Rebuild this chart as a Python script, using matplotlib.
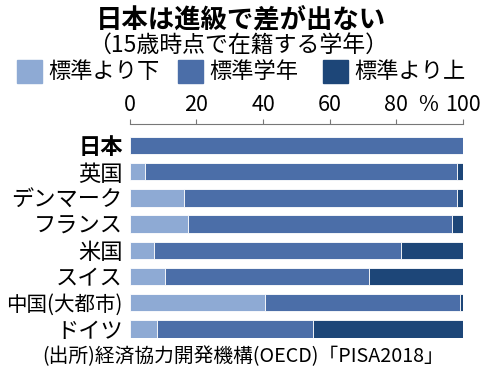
import matplotlib
matplotlib.use("Agg")
import matplotlib.pyplot as plt
import numpy as np
from matplotlib.patches import Rectangle

plt.rcParams['font.family'] = ['Noto Sans CJK JP', 'DejaVu Sans']

# data (%)
countries = ['日本', '英国', 'デンマーク', 'フランス', '米国', 'スイス', '中国(大都市)', 'ドイツ']
below     = np.array([0.0, 4.6, 16.3, 17.6, 7.4, 10.6, 40.6, 8.3])
above     = np.array([0.0, 1.7, 1.9, 3.2, 18.6, 28.3, 1.0, 45.1])
standard  = 100 - below - above
series_names = ['標準より下', '標準学年', '標準より上']
colors = ['#8eaad4', '#4b6ea8', '#1d4678']

fig = plt.figure(figsize=(4.8, 3.75), dpi=100)
ax = fig.add_axes([129.7/480, 1-337.7/375, (463-129.7)/480, (337.7-124)/375])

y = np.arange(len(countries))
h = 0.67
ax.barh(y, below, height=h, color=colors[0], edgecolor='white', linewidth=0.6)
ax.barh(y, standard, left=below, height=h, color=colors[1], edgecolor='white', linewidth=0.6)
ax.barh(y, above, left=below+standard, height=h, color=colors[2], edgecolor='white', linewidth=0.6)

ax.set_xlim(0, 100)
ax.set_ylim(len(countries)-1+0.335, -0.82)
ax.set_yticks(y)
ax.set_yticklabels(countries, fontsize=16)
ax.get_yticklabels()[0].set_fontweight('bold')
ax.get_yticklabels()[6].set_fontsize(14.8)
ax.tick_params(axis='y', length=0, pad=5)

ax.xaxis.tick_top()
ax.set_xticks([0, 20, 40, 60, 80, 100])
ax.tick_params(axis='x', direction='out', length=3.5, width=0.8, color='#777777',
               labelsize=15.5, pad=2)
for s in ['bottom', 'left', 'right']:
    ax.spines[s].set_visible(False)
ax.spines['top'].set_color('#777777')
ax.spines['top'].set_linewidth(0.8)
ax.annotate('%', xy=(89.6, 1), xycoords=('data', 'axes fraction'),
            xytext=(0, 5.5), textcoords='offset points',
            fontsize=15.5, ha='center', va='bottom')

# titles
fig.text(241/480, 1-20/375, '日本は進級で差が出ない', fontsize=19, fontweight='bold',
         ha='center', va='center')
fig.text(238/480, 1-45/375, '（15歳時点で在籍する学年）', fontsize=16.5,
         ha='center', va='center')

# legend
leg_x = [17, 178, 323]
for lx, name, c in zip(leg_x, series_names, colors):
    fig.add_artist(Rectangle((lx/480, 1-83/375), 25/480, 23/375,
                             transform=fig.transFigure, color=c))
    fig.text((lx+31)/480, 1-72/375, name, fontsize=16, ha='left', va='center')

# source
fig.text(243/480, 1-357/375, '(出所)経済協力開発機構(OECD)「PISA2018」',
         fontsize=14.2, ha='center', va='center')

fig.savefig('out.png', dpi=100)
